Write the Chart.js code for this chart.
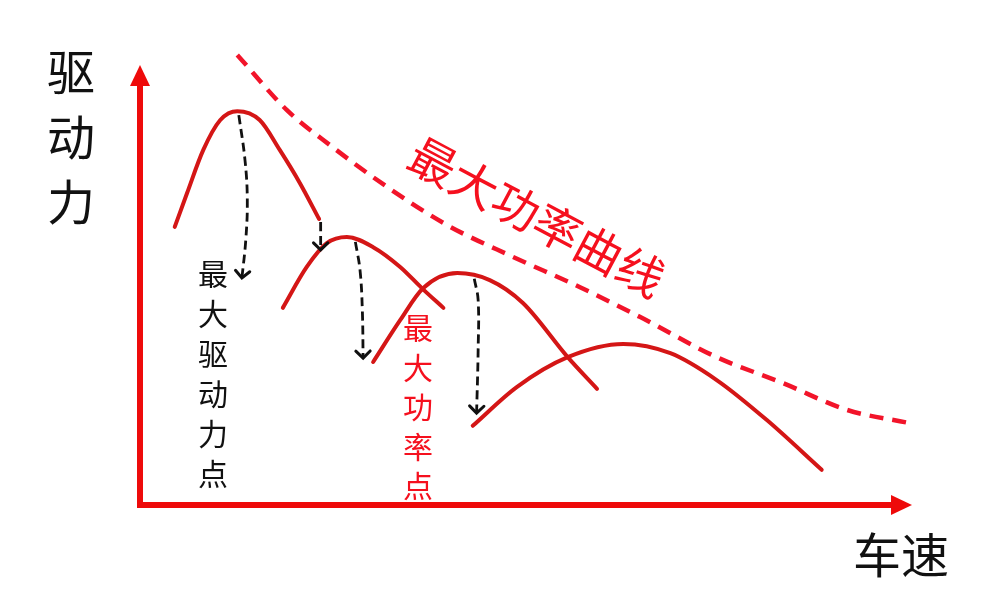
<!DOCTYPE html>
<html>
<head>
<meta charset="utf-8">
<script src="https://cdn.jsdelivr.net/npm/chart.js@4.4.1/dist/chart.umd.min.js"></script>
<style>
    html, body { margin: 0; padding: 0; background: #fff; }
    #wrap { width: 984px; height: 615px; position: relative; }
</style>
</head>
<body>
<div id="wrap"><canvas id="chart"></canvas></div>
<script>
// 各档位驱动力曲线：车速 / 驱动力（相对单位）
const gear1Speed = [4.5, 6.1, 8.2, 10.4, 12.6, 15.5, 18.1, 20.7, 23.2];
const gear1Force = [63.2, 70.9, 80.7, 87.5, 89.5, 87.5, 80.7, 73.2, 65.0];

const gear2Speed = [18.5, 21.6, 24.2, 26.8, 30.2, 33.7, 36.5, 39.3];
const gear2Force = [44.8, 54.1, 59.5, 60.9, 58.6, 54.1, 49.3, 44.8];

const gear3Speed = [30.2, 33.7, 36.7, 41.1, 45.3, 49.6, 55.4, 59.2];
const gear3Force = [32.5, 42.0, 49.3, 52.7, 51.1, 45.9, 33.6, 26.4];

const gear4Speed = [43.1, 48.8, 55.4, 62.6, 68.7, 74.7, 81.2, 88.3];
const gear4Force = [18.0, 26.8, 33.6, 36.6, 34.5, 28.4, 19.3, 8.0];

// 最大功率曲线
const powerSpeed = [12.6, 19.0, 24.6, 32.0, 39.8, 48.3, 57.0, 64.8, 74.7, 83.3, 91.6, 99.7];
const powerForce = [102.3, 89.8, 81.8, 72.3, 63.6, 56.4, 49.5, 42.7, 33.6, 27.7, 21.6, 18.6];

// 换挡箭头（从最大驱动力点 / 最大功率点向下）
const arrowASpeed = [12.8, 13.6, 13.9, 13.7, 13.2];
const arrowAForce = [88.6, 78.4, 69.3, 60.2, 51.6];
const arrowBSpeed = [23.4, 23.4];
const arrowBForce = [64.3, 58.0];
const arrowCSpeed = [27.9, 28.5, 28.8, 28.9];
const arrowCForce = [59.8, 53.4, 44.3, 33.4];
const arrowDSpeed = [43.3, 43.8, 43.8, 43.6];
const arrowDForce = [51.4, 46.6, 35.2, 20.9];

// 坐标轴范围
const axisSpeedMax = 100;
const axisForceMax = 100;

const yLabel = ['驱', '动', '力'];
const xLabel = '车速';
const driveLabel = '最大驱动力点';
const powerLabel = '最大功率点';
const powerCurveLabel = '最大功率曲线';

const FONT = '"Noto Sans CJK SC", "Noto Sans", sans-serif';
const GEAR_RED = '#d41616';
const AXIS_RED = '#ee0a0a';
const DASH_RED = '#f2142a';
const TEXT_RED = '#f5101e';

function toPoints(xs, ys) {
    return xs.map((x, i) => ({ x: x, y: ys[i] }));
}

function gearDataset(xs, ys) {
    return {
        data: toPoints(xs, ys),
        borderColor: GEAR_RED,
        borderWidth: 4,
        borderCapStyle: 'round',
        cubicInterpolationMode: 'monotone',
        pointRadius: 0,
        fill: false
    };
}

function arrowDataset(xs, ys) {
    return {
        data: toPoints(xs, ys),
        borderColor: '#111',
        borderWidth: 2.8,
        borderDash: [9, 5],
        tension: 0.4,
        pointRadius: 0,
        fill: false,
        arrowHead: true
    };
}

// 画坐标轴和箭头
const axisPlugin = {
    id: 'axisArrows',
    beforeDatasetsDraw(chart) {
        const ctx = chart.ctx;
        const xs = chart.scales.x, ys = chart.scales.y;
        const x0 = xs.getPixelForValue(0), y0 = ys.getPixelForValue(0);
        const xEnd = xs.getPixelForValue(axisSpeedMax);
        const yEnd = ys.getPixelForValue(axisForceMax);
        ctx.save();
        ctx.strokeStyle = AXIS_RED;
        ctx.fillStyle = AXIS_RED;
        ctx.lineWidth = 6;
        ctx.beginPath();
        ctx.moveTo(x0, y0 + 3);
        ctx.lineTo(x0, yEnd + 18);
        ctx.moveTo(x0 - 3, y0);
        ctx.lineTo(xEnd - 18, y0);
        ctx.stroke();
        ctx.beginPath();
        ctx.moveTo(x0, yEnd);
        ctx.lineTo(x0 - 10, yEnd + 21);
        ctx.lineTo(x0 + 10, yEnd + 21);
        ctx.closePath();
        ctx.fill();
        ctx.beginPath();
        ctx.moveTo(xEnd, y0);
        ctx.lineTo(xEnd - 21, y0 - 10);
        ctx.lineTo(xEnd - 21, y0 + 10);
        ctx.closePath();
        ctx.fill();
        ctx.restore();
    }
};

// 虚线箭头末端的箭头头部
const arrowHeadPlugin = {
    id: 'arrowHeads',
    afterDatasetsDraw(chart) {
        const ctx = chart.ctx;
        chart.data.datasets.forEach((ds, i) => {
            if (!ds.arrowHead) return;
            const pts = chart.getDatasetMeta(i).data;
            const a = pts[pts.length - 2], b = pts[pts.length - 1];
            const ang = Math.atan2(b.y - a.y, b.x - a.x);
            const len = 10, spread = 0.8;
            ctx.save();
            ctx.strokeStyle = '#111';
            ctx.lineWidth = 3;
            ctx.lineCap = 'round';
            ctx.beginPath();
            ctx.moveTo(b.x - len * Math.cos(ang - spread), b.y - len * Math.sin(ang - spread));
            ctx.lineTo(b.x, b.y);
            ctx.lineTo(b.x - len * Math.cos(ang + spread), b.y - len * Math.sin(ang + spread));
            ctx.stroke();
            ctx.restore();
        });
    }
};

function drawVertical(ctx, chars, x, y, step) {
    chars.forEach((c, i) => ctx.fillText(c, x, y + i * step));
}

const textPlugin = {
    id: 'labels',
    afterDraw(chart) {
        const ctx = chart.ctx;
        ctx.save();
        ctx.textAlign = 'center';
        ctx.textBaseline = 'middle';

        ctx.fillStyle = '#111';
        ctx.font = '48px ' + FONT;
        drawVertical(ctx, yLabel, 71, 72, 65);
        ctx.fillText(xLabel, 901, 555);

        ctx.font = '30px ' + FONT;
        drawVertical(ctx, Array.from(driveLabel), 213, 274, 40);

        ctx.fillStyle = TEXT_RED;
        drawVertical(ctx, Array.from(powerLabel), 418, 328, 39.5);

        ctx.font = '47px ' + FONT;
        ctx.translate(537, 217);
        ctx.rotate(28 * Math.PI / 180);
        ctx.fillText(powerCurveLabel, 0, 0);
        ctx.restore();
    }
};

new Chart(document.getElementById('chart'), {
    type: 'line',
    data: {
        datasets: [
            gearDataset(gear1Speed, gear1Force),
            gearDataset(gear2Speed, gear2Force),
            gearDataset(gear3Speed, gear3Force),
            gearDataset(gear4Speed, gear4Force),
            {
                data: toPoints(powerSpeed, powerForce),
                borderColor: DASH_RED,
                borderWidth: 4.5,
                borderDash: [14, 9],
                cubicInterpolationMode: 'monotone',
                pointRadius: 0,
                fill: false
            },
            arrowDataset(arrowASpeed, arrowAForce),
            arrowDataset(arrowBSpeed, arrowBForce),
            arrowDataset(arrowCSpeed, arrowCForce),
            arrowDataset(arrowDSpeed, arrowDForce)
        ]
    },
    options: {
        responsive: true,
        maintainAspectRatio: false,
        animation: false,
        layout: { padding: { left: 140, right: 72, top: 43, bottom: 110 } },
        scales: {
            x: { type: 'linear', min: 0, max: 100, display: false },
            y: { type: 'linear', min: 0, max: 105, display: false }
        },
        plugins: {
            legend: { display: false },
            tooltip: { enabled: false }
        },
        elements: { line: { capBezierPoints: true } },
        clip: false
    },
    plugins: [axisPlugin, arrowHeadPlugin, textPlugin]
});
</script>
</body>
</html>
